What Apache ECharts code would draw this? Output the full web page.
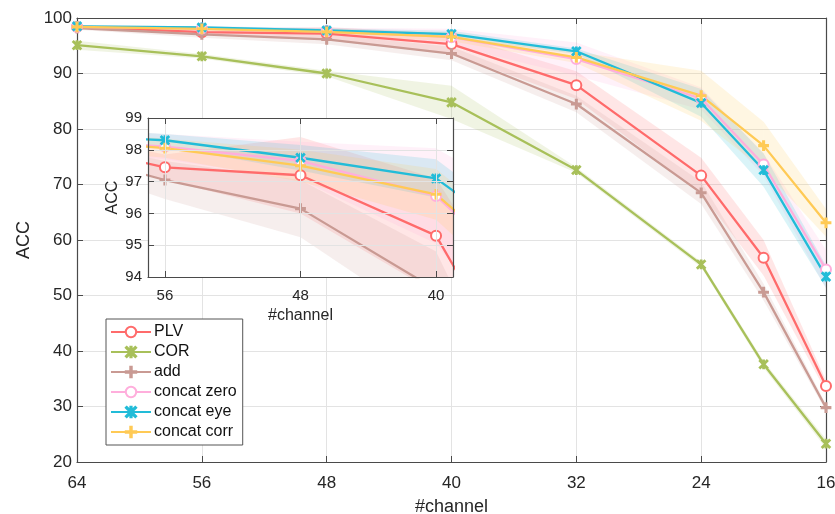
<!DOCTYPE html>
<html>
<head>
<meta charset="utf-8">
<script src="https://cdn.jsdelivr.net/npm/echarts@6/dist/echarts.min.js"></script>
<style>
html, body { margin: 0; padding: 0; background: #fff; }
#chart { width: 835px; height: 514px; }
</style>
</head>
<body>
<div id="chart"></div>
<script>
// 数据
var channels = [64, 56, 48, 40, 32, 24, 20, 16];
var seriesNames = ['PLV', 'COR', 'add', 'concat zero', 'concat eye', 'concat corr'];
var plv = [98.4, 97.45, 97.2, 95.3, 87.9, 71.6, 56.8, 33.7];
var cor = [95.1, 93.1, 90.0, 84.8, 72.6, 55.6, 37.6, 23.3];
var add = [98.2, 97.05, 96.15, 93.6, 84.5, 68.5, 50.6, 29.8];
var concatZero = [98.4, 98.1, 97.65, 96.55, 92.6, 85.5, 73.6, 54.7];
var concatEye = [98.5, 98.3, 97.75, 97.1, 94.0, 84.7, 72.6, 53.4];
var concatCorr = [98.4, 98.05, 97.5, 96.6, 92.9, 86.0, 77.0, 63.1];
// std bands (half widths)
var plvStd = [0.3, 0.4, 1.2, 1.8, 2.5, 3.2, 3.2, 1.0];
var corStd = [0.8, 0.4, 0.5, 3.0, 0.5, 0.5, 0.6, 0.8];
var addStd = [0.3, 0.6, 0.9, 1.2, 1.5, 2.0, 1.5, 0.6];
var concatZeroStd = [0.3, 0.4, 0.6, 1.5, 3.0, 2.0, 2.0, 3.5];
var concatEyeStd = [0.2, 0.2, 0.4, 0.6, 0.5, 2.5, 3.0, 2.0];
var concatCorrStd = [0.3, 0.3, 0.5, 0.8, 1.0, 4.5, 4.3, 2.5];
var mainYTicks = [20, 30, 40, 50, 60, 70, 80, 90, 100];
var insetXTicks = [56, 48, 40];

var colors = ['#ff6b6b', '#a8c05a', '#c99a93', '#ffaedc', '#22bcd8', '#ffca55'];
var plusPath = 'path://M4.3,0H5.7V4.3H10V5.7H5.7V10H4.3V5.7H0V4.3H4.3Z';
var starPath = 'path://M4.4,0H5.6V10H4.4Z M0,0.9L0.9,0L5,4.1L9.1,0L10,0.9L5.9,5L10,9.1L9.1,10L5,5.9L0.9,10L0,9.1L4.1,5Z';
var symbols = ['emptyCircle', starPath, plusPath, 'emptyCircle', starPath, plusPath];
var symbolSizes = [10, 8, 9, 10, 8, 9];
var means = [plv, cor, add, concatZero, concatEye, concatCorr];
var stds = [plvStd, corStd, addStd, concatZeroStd, concatEyeStd, concatCorrStd];

var font = 'Liberation Sans, Arial, sans-serif';
var textColor = '#262626';
var axisColor = '#4a4a4a';

function pairs(ys) {
    var out = [];
    for (var i = 0; i < channels.length; i++) out.push([channels[i], ys[i]]);
    return out;
}

function lineSeries(k, axisIdx, z) {
    return {
        name: seriesNames[k],
        type: 'line',
        xAxisIndex: axisIdx,
        yAxisIndex: axisIdx,
        data: pairs(means[k]),
        symbol: symbols[k],
        symbolSize: symbolSizes[k],
        showAllSymbol: true,
        clip: true,
        z: z,
        lineStyle: { color: colors[k], width: 2.3 },
        itemStyle: { color: colors[k], borderColor: colors[k], borderWidth: 1.8 },
        emphasis: { disabled: true }
    };
}

// 阴影带
function bandSeries(k, axisIdx, z) {
    var m = means[k], s = stds[k], data = [];
    for (var i = 0; i < channels.length - 1; i++) {
        data.push([channels[i], m[i] - s[i], m[i] + s[i], channels[i + 1], m[i + 1] - s[i + 1], m[i + 1] + s[i + 1]]);
    }
    return {
        name: seriesNames[k] + ' band',
        type: 'custom',
        xAxisIndex: axisIdx,
        yAxisIndex: axisIdx,
        clip: true,
        silent: true,
        z: z,
        renderItem: function (params, api) {
            var pts = [
                api.coord([api.value(0), api.value(1)]),
                api.coord([api.value(3), api.value(4)]),
                api.coord([api.value(3), api.value(5)]),
                api.coord([api.value(0), api.value(2)])
            ];
            return { type: 'polygon', shape: { points: pts }, style: { fill: colors[k], opacity: 0.17 } };
        },
        data: data
    };
}

function xAxisOpt(grid, min, max, interval, pos, showLabel, fontSize, z, name, nameGap, margin, custom) {
    var o = {
        type: 'value', gridIndex: grid, min: min, max: max, interval: interval,
        inverse: true, position: pos, z: z,
        name: name || '', nameLocation: 'middle', nameGap: nameGap || 0,
        nameTextStyle: { color: textColor, fontFamily: font, fontSize: fontSize + 1 },
        axisLine: { show: true, onZero: false, lineStyle: { color: axisColor, width: 1.2 } },
        axisTick: { show: true, inside: true, length: 6, lineStyle: { color: axisColor } },
        axisLabel: { show: showLabel, color: textColor, fontFamily: font, fontSize: fontSize, margin: margin || 9 },
        splitLine: { show: showLabel, lineStyle: { color: '#e3e3e3', width: 1 } }
    };
    if (custom) {
        o.axisTick.customValues = custom;
        o.axisLabel.customValues = custom;
        o.splitLine.customValues = custom;
    }
    return o;
}

function yAxisOpt(grid, min, max, interval, pos, showLabel, fontSize, z, name, nameGap, margin) {
    return {
        type: 'value', gridIndex: grid, min: min, max: max, interval: interval,
        position: pos, z: z,
        name: name || '', nameLocation: 'middle', nameGap: nameGap || 0, nameRotate: 90,
        nameTextStyle: { color: textColor, fontFamily: font, fontSize: fontSize + 1 },
        axisLine: { show: true, onZero: false, lineStyle: { color: axisColor, width: 1.2 } },
        axisTick: { show: true, inside: true, length: 6, lineStyle: { color: axisColor } },
        axisLabel: { show: showLabel, color: textColor, fontFamily: font, fontSize: fontSize, margin: margin },
        splitLine: { show: showLabel, lineStyle: { color: '#e3e3e3', width: 1 } }
    };
}

var series = [];
for (var k = 0; k < 6; k++) series.push(lineSeries(k, 0, 3));
for (var k2 = 0; k2 < 6; k2++) series.push(lineSeries(k2, 2, 8));
for (var k3 = 0; k3 < 6; k3++) series.push(bandSeries(k3, 0, 1));
for (var k4 = 0; k4 < 6; k4++) series.push(bandSeries(k4, 2, 7));

var myChart = echarts.init(document.getElementById('chart'), null, { renderer: 'canvas' });
var option = {
    animation: false,
    backgroundColor: '#fff',
    grid: [
        { left: 77, right: 9, top: 18, bottom: 52, show: false, containLabel: false, outerBoundsMode: 'none' },
        { left: 148, right: 382, top: 118, bottom: 237, show: true, backgroundColor: '#fff', borderWidth: 0, z: 6, containLabel: false, outerBoundsMode: 'none' }
    ],
    xAxis: [
        xAxisOpt(0, 16, 64, 8, 'bottom', true, 17, 0, '#channel', 36, 13),
        xAxisOpt(0, 16, 64, 8, 'top', false, 17, 0),
        xAxisOpt(1, 39, 57, 8, 'bottom', true, 15, 9, '#channel', 31, 11, insetXTicks),
        xAxisOpt(1, 39, 57, 8, 'top', false, 15, 9, '', 0, 9, insetXTicks)
    ],
    yAxis: [
        yAxisOpt(0, mainYTicks[0], mainYTicks[mainYTicks.length - 1], 10, 'left', true, 17, 0, 'ACC', 38, 5),
        yAxisOpt(0, 20, 100, 10, 'right', false, 17, 0),
        yAxisOpt(1, 94, 99, 1, 'left', true, 15, 9, 'ACC', 27, 6),
        yAxisOpt(1, 94, 99, 1, 'right', false, 15, 9)
    ],
    legend: {
        data: seriesNames,
        orient: 'vertical',
        left: 106,
        top: 319,
        itemWidth: 40,
        itemHeight: 13,
        itemGap: 4,
        padding: [5, 6, 5, 4],
        borderColor: '#555',
        borderWidth: 1,
        borderRadius: 0,
        backgroundColor: '#fff',
        textStyle: { color: '#111', fontFamily: font, fontSize: 16, padding: [0, 0, 0, -2] }
    },
    series: series
};
myChart.setOption(option);
</script>
</body>
</html>
